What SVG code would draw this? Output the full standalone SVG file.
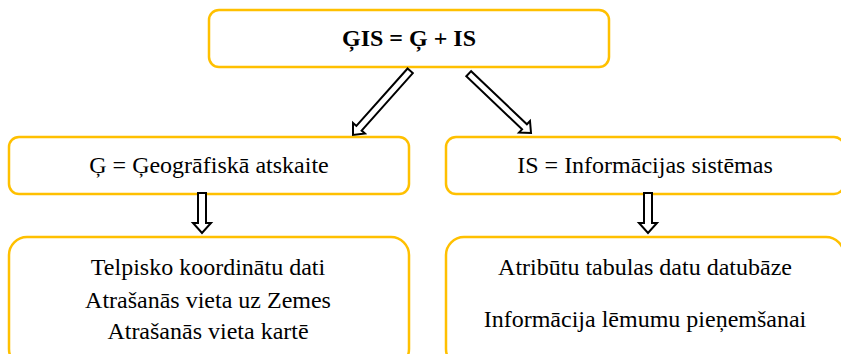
<svg xmlns="http://www.w3.org/2000/svg" width="841" height="354" viewBox="0 0 841 354">
  <style>
    .box { fill: #ffffff; stroke: #FFC000; stroke-width: 2.5; }
    .txt { font-family: 'Liberation Serif', Tinos, 'Times New Roman', Times, 'DejaVu Serif', serif; font-size: 24px; fill: #000000; text-anchor: middle; }
    .bold { font-weight: bold; }
    .arrow { fill: #ffffff; stroke: #000000; stroke-width: 2; stroke-linejoin: miter; }
  </style>
  <defs>
    <!-- hollow block arrow pointing down, tip at origin -->
    <polygon id="arrowDown40" points="-4,-40 4,-40 4,-10 9,-10 0,0 -9,-10 -4,-10"/>
    <polygon id="arrowDiag" points="-3.5,-86 3.5,-86 3.5,-9 8,-9 0,0 -8,-9 -3.5,-9"/>
  </defs>
  <rect width="841" height="354" fill="#ffffff"/>

  <g id="gis">
    <rect class="box" x="209" y="10" width="400" height="57" rx="10"/>
    <text class="txt bold" x="409" y="46" font-family="Liberation Serif, serif">ĢIS = Ģ + IS</text>
  </g>

  <g id="geo">
    <rect class="box" x="9" y="137" width="400" height="57" rx="10"/>
    <text class="txt" x="209" y="173">Ģ = Ģeogrāfiskā atskaite</text>
  </g>

  <g id="is">
    <rect class="box" x="446" y="137" width="398" height="57" rx="10"/>
    <text class="txt" x="645" y="173">IS = Informācijas sistēmas</text>
  </g>

  <g id="geo-details">
    <rect class="box" x="9" y="237" width="400" height="130" rx="18"/>
    <text class="txt" x="208" y="275">Telpisko koordinātu dati</text>
    <text class="txt" x="208" y="308">Atrašanās vieta uz Zemes</text>
    <text class="txt" x="208" y="339">Atrašanās vieta kartē</text>
  </g>

  <g id="is-details">
    <rect class="box" x="446" y="237" width="398" height="130" rx="18"/>
    <text class="txt" x="645" y="275">Atribūtu tabulas datu datubāze</text>
    <text class="txt" x="645" y="327">Informācija lēmumu pieņemšanai</text>
  </g>

  <g id="connectors">
    <use href="#arrowDiag" class="arrow" transform="translate(353,135) rotate(41.7)"/>
    <use href="#arrowDiag" class="arrow" transform="translate(531,133) rotate(-46.4)"/>
    <use href="#arrowDown40" class="arrow" transform="translate(202,233)"/>
    <use href="#arrowDown40" class="arrow" transform="translate(648,233)"/>
  </g>
</svg>
